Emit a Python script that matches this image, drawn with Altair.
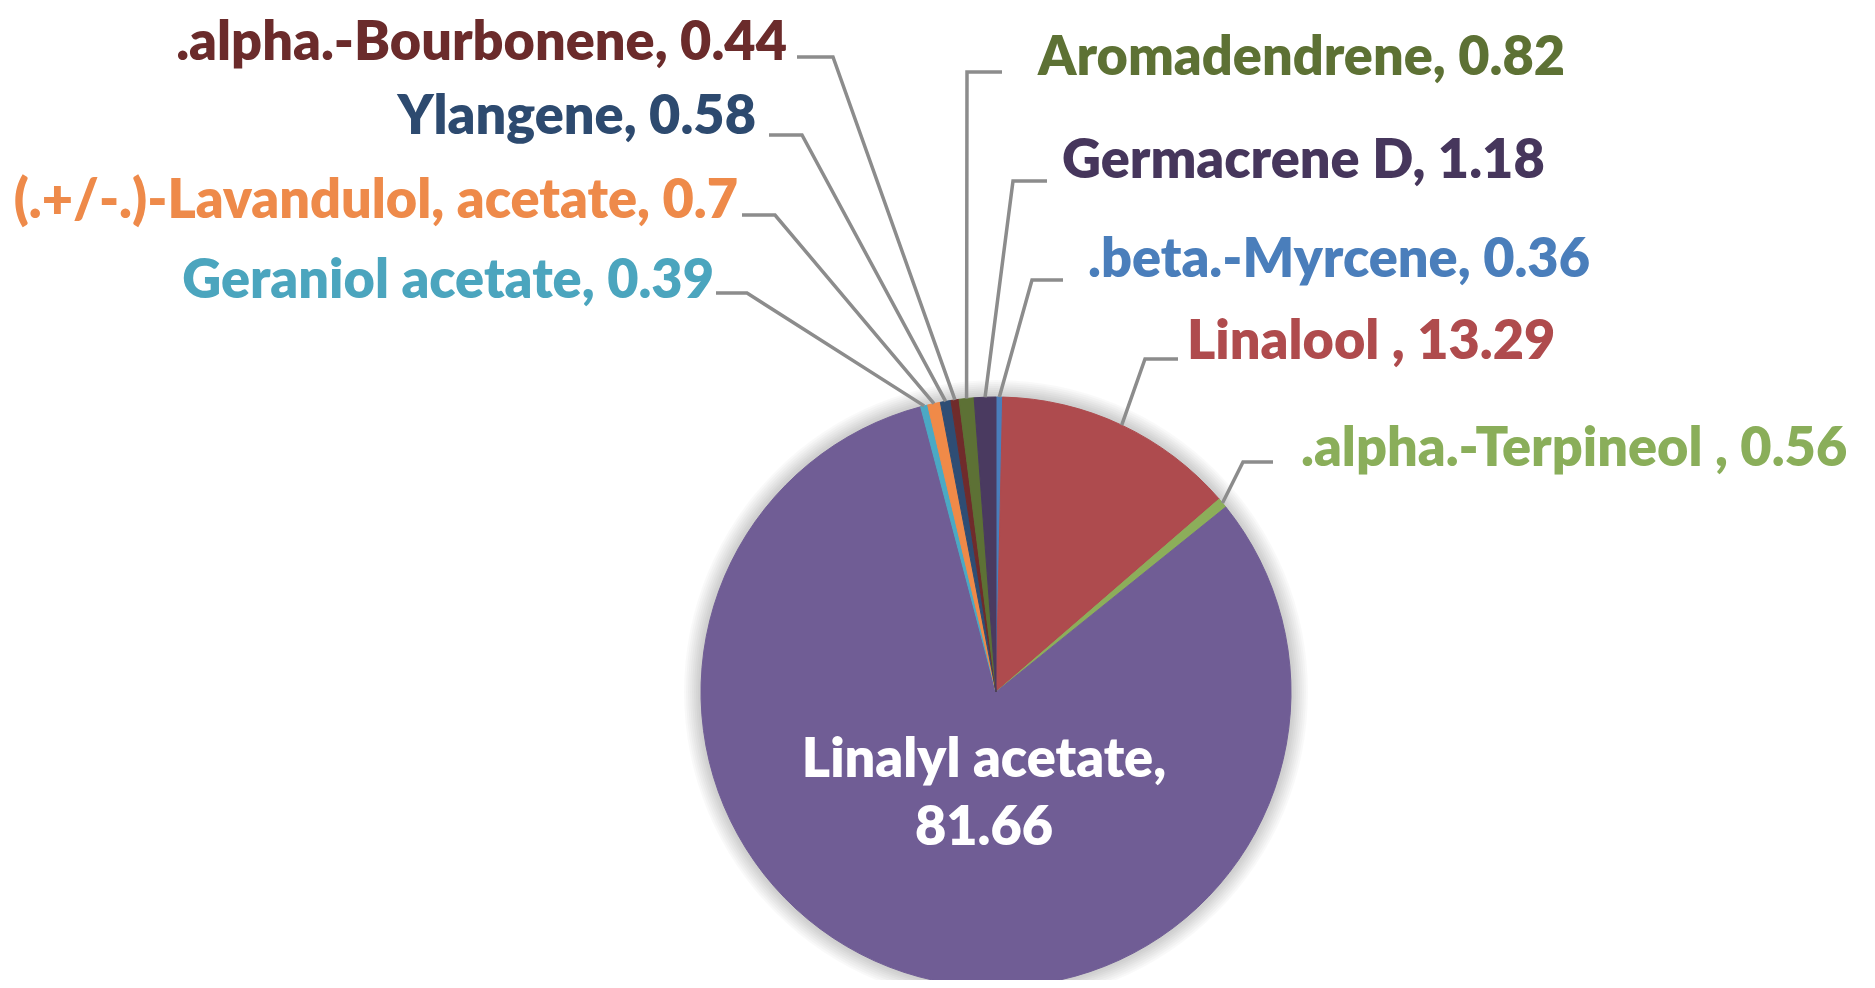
import math
import altair as alt
import pandas as pd

# ---------------- data ----------------
names = [".beta.-Myrcene", "Linalool ", ".alpha.-Terpineol ", "Linalyl acetate",
         "Geraniol acetate", "(.+/-.)-Lavandulol, acetate", "Ylangene",
         ".alpha.-Bourbonene", "Aromadendrene", "Germacrene D"]
values = [0.36, 13.29, 0.56, 81.66, 0.39, 0.7, 0.58, 0.44, 0.82, 1.18]

# ---------------- styles ----------------
slice_colors = ["#4A7EBB", "#AE4B4E", "#8CAE5A", "#705D95", "#4BA9C4",
                "#F08A48", "#2E4D74", "#702B2B", "#5D7135", "#4A3A60"]
text_colors = ["#4A7EBB", "#AF4B4D", "#8AAE5A", "#FFFFFF", "#4BA5BE",
               "#EE8A4A", "#2D4A6F", "#6B2B2B", "#5D7134", "#46365C"]
FONT = "Lato"
FONT_SIZE = 54
FONT_WEIGHT = 800
LINE_COLOR = "#8C8C8C"

# ---------------- layout (page pixel coordinates) ----------------
W, H = 1859, 972
OFF = 8
CX, CY, R = 996, 692, 295
# name -> (text x, text baseline y, side, line start x, line y, elbow x)
label_layout = {
    ".beta.-Myrcene": (1088, 277, "right", 1063, 280, 1032),
    "Linalool ": (1187, 359, "right", 1178, 359, 1145),
    ".alpha.-Terpineol ": (1301, 466, "right", 1273, 462, 1243),
    "Geraniol acetate": (714, 298, "left", 716, 293, 747),
    "(.+/-.)-Lavandulol, acetate": (738, 218, "left", 742, 215, 775),
    "Ylangene": (756, 134, "left", 769, 135, 802),
    ".alpha.-Bourbonene": (787, 60, "left", 797, 57, 833),
    "Aromadendrene": (1038, 75, "right", 1002, 72, 967),
    "Germacrene D": (1062, 178, "right", 1047, 181, 1013),
}
inside_label = ("Linalyl acetate", 984, 777)
shadow_offsets = [1, 3, 5, 7, 9, 11, 13, 15, 17]

# ---------------- tables ----------------
total = sum(values)
pie_df = pd.DataFrame({"name": names, "value": values, "idx": list(range(len(names)))})

label_rows, line_rows = [], []
cum = 0.0
for n, v, tc in zip(names, values, text_colors):
    mid = (cum + v / 2) / total * 2 * math.pi
    cum += v
    ex = CX + R * math.sin(mid)
    ey = CY - R * math.cos(mid)
    if n in label_layout:
        tx, ty, side, lx, ly, bx = label_layout[n]
        label_rows.append({"name": n, "label": f"{n}, {v}", "tx": tx, "ty": ty,
                           "side": side, "tcolor": tc})
        for k, (px, py) in enumerate([(lx, ly), (bx, ly), (ex, ey)]):
            line_rows.append({"name": n, "pt": k, "px": px, "py": py})
    elif n == inside_label[0]:
        inside_row = {"label": f"{n},\n{v}", "tx": inside_label[1], "ty": inside_label[2],
                      "tcolor": tc}

label_df = pd.DataFrame(label_rows)
line_df = pd.DataFrame(line_rows)
inside_df = pd.DataFrame([inside_row])

xs = alt.Scale(domain=[OFF, OFF + W], nice=False, zero=False)
ys = alt.Scale(domain=[OFF, OFF + H], nice=False, zero=False, reverse=True)

# ---------------- layers ----------------
one = alt.Data(values=[{"k": 0}])
shadow_layers = [
    alt.Chart(one).mark_arc(radius=R + d, theta=0, theta2=2 * math.pi,
                            color="#000000", opacity=0.024)
    .encode(x=alt.value(CX - OFF), y=alt.value(CY - OFF))
    for d in shadow_offsets
]

pie = alt.Chart(pie_df).mark_arc(radius=R).encode(
    theta=alt.Theta("value:Q", stack=True),
    order=alt.Order("idx:Q"),
    color=alt.Color("name:N", scale=alt.Scale(domain=names, range=slice_colors), legend=None),
    stroke=alt.Color("name:N", scale=alt.Scale(domain=names, range=slice_colors), legend=None),
    x=alt.value(CX - OFF),
    y=alt.value(CY - OFF),
)

lines = alt.Chart(line_df).mark_line(color=LINE_COLOR, strokeWidth=3.5).encode(
    x=alt.X("px:Q", scale=xs, axis=None),
    y=alt.Y("py:Q", scale=ys, axis=None),
    detail="name:N",
    order="pt:Q",
)

def text_layer(df, align):
    return alt.Chart(df).mark_text(
        align=align, baseline="alphabetic", font=FONT, fontWeight=FONT_WEIGHT,
        fontSize=FONT_SIZE, lineBreak="\n", lineHeight=68,
    ).encode(
        x=alt.X("tx:Q", scale=xs, axis=None),
        y=alt.Y("ty:Q", scale=ys, axis=None),
        text="label:N",
        color=alt.Color("tcolor:N", scale=None),
    )

left_text = text_layer(label_df[label_df.side == "left"], "right")
right_text = text_layer(label_df[label_df.side == "right"], "left")
inside_text = text_layer(inside_df, "center")

chart = alt.layer(
    *shadow_layers, pie, lines, left_text, right_text, inside_text
).resolve_scale(color="independent", stroke="independent").properties(
    width=W, height=H, padding=0, autosize="none", background="white"
).configure_view(stroke=None)

chart.save("out.html", embed_options={"renderer": "svg", "actions": False})
